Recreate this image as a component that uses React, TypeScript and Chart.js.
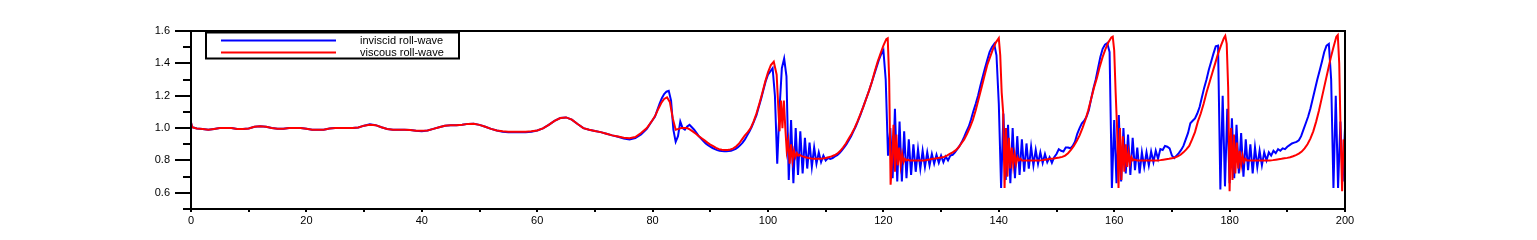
import { useEffect, useRef } from "react";
import { Chart, registerables } from "chart.js";

Chart.register(...registerables);

const X_MIN = 0;
const X_MAX = 200;
const Y_MIN = 0.5;
const Y_MAX = 1.6;
const xMajorTicks = [0, 20, 40, 60, 80, 100, 120, 140, 160, 180, 200];
const xMinorTicks = [10, 30, 50, 70, 90, 110, 130, 150, 170, 190];
const yMajorTicks = [0.6, 0.8, 1.0, 1.2, 1.4, 1.6];
const yMinorTicks = [0.5, 0.7, 0.9, 1.1, 1.3, 1.5];
const seriesNames = ["inviscid roll-wave", "viscous roll-wave"];

// ---- inviscid (blue) samples ----
// x = 0, 0.2
const blueHead = [1.035, 1.005];
// x = 1 .. 80, step 1
const blueCalm = [
  0.997, 0.995, 0.99, 0.995, 1.0, 1.0, 1.0, 0.995, 0.995, 0.998,
  1.008, 1.012, 1.008, 1.0, 0.996, 0.996, 1.0, 1.0, 1.0, 0.996,
  0.99, 0.99, 0.99, 0.998, 1.0, 1.0, 1.0, 1.0, 1.004, 1.015,
  1.024, 1.018, 1.005, 0.995, 0.99, 0.99, 0.99, 0.988, 0.983, 0.98,
  0.985, 0.995, 1.005, 1.015, 1.017, 1.017, 1.02, 1.026, 1.027, 1.02,
  1.008, 0.995, 0.985, 0.978, 0.975, 0.975, 0.975, 0.975, 0.977, 0.985,
  0.998, 1.02, 1.045, 1.062, 1.066, 1.052, 1.025, 1.0, 0.99, 0.982,
  0.975, 0.965, 0.955, 0.946, 0.936, 0.93, 0.938, 0.96, 0.995, 1.05,
];
// x = 80.4 .. 200, step 0.4
const blueWaves = [
  1.07, 1.11, 1.15, 1.185, 1.21,
  1.225, 1.23, 1.17, 0.99, 0.915,
  0.95, 1.04, 1.0, 0.99, 1.01,
  1.02, 1.005, 0.99, 0.97, 0.95,
  0.935, 0.92, 0.905, 0.895, 0.885,
  0.877, 0.87, 0.864, 0.86, 0.858,
  0.857, 0.857, 0.858, 0.86, 0.865,
  0.872, 0.882, 0.895, 0.91, 0.93,
  0.955, 0.98, 1.01, 1.045, 1.08,
  1.13, 1.18, 1.235, 1.29, 1.33,
  1.35, 1.37, 1.2, 0.78, 1.12,
  1.37, 1.43, 1.32, 0.68, 1.05,
  0.66, 1.0, 0.71, 0.98, 0.72,
  0.94, 0.75, 0.91, 0.76, 0.88,
  0.78, 0.85, 0.79, 0.83, 0.8,
  0.815, 0.81, 0.815, 0.825, 0.832,
  0.845, 0.862, 0.88, 0.9, 0.925,
  0.95, 0.98, 1.01, 1.045, 1.08,
  1.12, 1.16, 1.2, 1.24, 1.285,
  1.33, 1.375, 1.42, 1.455, 1.48,
  1.3, 0.83, 1.0, 0.69, 1.12,
  0.67, 1.04, 0.67, 0.98, 0.69,
  0.93, 0.71, 0.9, 0.73, 0.87,
  0.75, 0.86, 0.76, 0.85, 0.77,
  0.84, 0.78, 0.835, 0.785, 0.83,
  0.79, 0.825, 0.8, 0.83, 0.835,
  0.85, 0.87, 0.89, 0.915, 0.945,
  0.98, 1.01, 1.055, 1.105, 1.15,
  1.2, 1.26, 1.315, 1.37, 1.42,
  1.47, 1.5, 1.52, 1.45, 1.15,
  0.63, 1.09, 0.68, 1.02, 0.66,
  1.0, 0.69, 0.95, 0.71, 0.93,
  0.73, 0.905, 0.75, 0.885, 0.77,
  0.865, 0.78, 0.85, 0.785, 0.84,
  0.79, 0.82, 0.785, 0.82, 0.84,
  0.87, 0.86, 0.855, 0.88, 0.88,
  0.875, 0.89, 0.915, 0.965, 1.0,
  1.03, 1.045, 1.07, 1.11, 1.18,
  1.245, 1.3, 1.37, 1.44, 1.49,
  1.515, 1.525, 1.47, 0.63, 1.05,
  0.66, 1.08, 0.67, 1.0, 0.72,
  0.96, 0.71, 0.94, 0.74, 0.88,
  0.72, 0.85, 0.76, 0.85, 0.77,
  0.855, 0.79, 0.86, 0.81, 0.87,
  0.865, 0.89, 0.885, 0.875, 0.83,
  0.815, 0.83, 0.845, 0.865, 0.89,
  0.93, 0.97, 1.03, 1.045, 1.06,
  1.09, 1.13, 1.19, 1.25, 1.3,
  1.36, 1.41, 1.46, 1.505, 1.51,
  0.62, 1.2, 0.64, 1.12, 0.66,
  1.06, 0.69, 1.02, 0.72, 0.97,
  0.7, 0.93, 0.74, 0.9, 0.72,
  0.88, 0.76, 0.86, 0.77, 0.85,
  0.8, 0.85, 0.83, 0.86, 0.845,
  0.87, 0.86, 0.875, 0.87, 0.885,
  0.895, 0.905, 0.91, 0.915, 0.925,
  0.95, 0.99, 1.03, 1.07, 1.12,
  1.18, 1.24, 1.3, 1.355, 1.41,
  1.47, 1.51, 1.52, 1.3, 0.63,
  1.2, 0.63, 1.04, 0.67, 1.0,
];

// ---- viscous (red) samples ----
const redHead = [1.035, 1.005]; // x = 0, 0.2
// x = 1 .. 80, step 1
const redCalm = [
  0.997, 0.995, 0.99, 0.995, 1.0, 1.0, 1.0, 0.995, 0.995, 0.998,
  1.008, 1.012, 1.008, 1.0, 0.996, 0.996, 1.0, 1.0, 1.0, 0.996,
  0.99, 0.99, 0.99, 0.998, 1.0, 1.0, 1.0, 1.0, 1.004, 1.015,
  1.02, 1.018, 1.005, 0.995, 0.99, 0.99, 0.99, 0.988, 0.983, 0.983,
  0.985, 0.995, 1.005, 1.015, 1.017, 1.017, 1.02, 1.026, 1.027, 1.02,
  1.008, 0.995, 0.985, 0.98, 0.978, 0.978, 0.978, 0.978, 0.98, 0.985,
  0.998, 1.02, 1.045, 1.062, 1.066, 1.052, 1.025, 1.0, 0.99, 0.982,
  0.975, 0.965, 0.955, 0.948, 0.94, 0.937, 0.945, 0.97, 1.0, 1.05,
];
// x = 80.5 .. 101.5, step 0.5
const redWave1 = [
  1.08, 1.12, 1.155, 1.18, 1.19, 1.16, 1.06, 0.99, 0.995, 1.0,
  1.0, 1.0, 0.99, 0.978, 0.965, 0.95, 0.937, 0.924, 0.91, 0.898,
  0.888, 0.878, 0.87, 0.866, 0.864, 0.864, 0.868, 0.875, 0.888, 0.905,
  0.93, 0.955, 0.975, 1.0, 1.04, 1.09, 1.15, 1.215, 1.285, 1.345,
  1.39, 1.41, 1.33,
];
// x = 101.75 .. 106, step 0.25
const redShock2 = [
  1.15, 0.98, 1.17, 1.0, 1.17, 1.0, 0.86, 0.92, 0.78, 0.9,
  0.8, 0.86, 0.82, 0.845, 0.83, 0.835, 0.828, 0.825,
];
// x = 106.5 .. 120.5, step 0.5
const redRise3 = [
  0.82, 0.815, 0.812, 0.81, 0.81, 0.81, 0.812, 0.815, 0.82, 0.825,
  0.832, 0.842, 0.858, 0.88, 0.905, 0.935, 0.965, 1.0, 1.04, 1.085,
  1.13, 1.18, 1.23, 1.285, 1.35, 1.41, 1.46, 1.51, 1.55,
];
// x = 120.75 .. 124.5, step 0.25
const redShock3 = [
  1.555, 1.3, 0.65, 0.8, 1.02, 0.73, 0.96, 0.77, 0.88, 0.77,
  0.84, 0.79, 0.81, 0.8, 0.805, 0.8,
];
// x = 125 .. 140, step 0.5
const redRise4 = [
  0.8, 0.8, 0.8, 0.8, 0.8, 0.803, 0.806, 0.81, 0.812, 0.815,
  0.818, 0.822, 0.83, 0.84, 0.85, 0.862, 0.88, 0.905, 0.93, 0.965,
  1.005, 1.05, 1.11, 1.18, 1.25, 1.32, 1.39, 1.44, 1.49, 1.53,
  1.556,
];
// x = 140.25 .. 144, step 0.25
const redShock4 = [
  1.45, 1.22, 1.1, 0.63, 1.0, 0.7, 0.94, 0.75, 0.88, 0.77,
  0.84, 0.78, 0.82, 0.8, 0.81, 0.8,
];
// x = 144.5 .. 159.5, step 0.5
const redRise5 = [
  0.8, 0.8, 0.8, 0.8, 0.8, 0.8, 0.802, 0.805, 0.808, 0.81,
  0.812, 0.815, 0.818, 0.822, 0.83, 0.845, 0.865, 0.89, 0.92, 0.955,
  1.0, 1.05, 1.11, 1.18, 1.25, 1.31, 1.38, 1.44, 1.49, 1.53,
  1.56,
];
// x = 159.75 .. 163.5, step 0.25
const redShock5 = [
  1.565, 1.48, 1.22, 1.0, 0.63, 1.0, 0.68, 0.95, 0.73, 0.9,
  0.76, 0.85, 0.78, 0.82, 0.8, 0.805,
];
// x = 164 .. 179, step 0.5
const redRise6 = [
  0.8, 0.8, 0.8, 0.8, 0.8, 0.8, 0.8, 0.8, 0.802, 0.805,
  0.808, 0.81, 0.813, 0.818, 0.825, 0.835, 0.85, 0.868, 0.89, 0.93,
  0.975, 1.04, 1.09, 1.15, 1.22, 1.28, 1.34, 1.4, 1.46, 1.51,
  1.555,
];
// x = 179.25 .. 183, step 0.25
const redShock6 = [
  1.57, 1.52, 1.25, 0.61, 1.0, 0.68, 0.96, 0.72, 0.91, 0.75,
  0.86, 0.77, 0.83, 0.79, 0.81, 0.8,
];
// x = 183.5 .. 198.5, step 0.5
const redRise7 = [
  0.8, 0.8, 0.8, 0.8, 0.8, 0.8, 0.8, 0.8, 0.802, 0.805,
  0.808, 0.81, 0.813, 0.816, 0.82, 0.826, 0.833, 0.842, 0.855, 0.875,
  0.9, 0.935, 0.98, 1.04, 1.11, 1.19, 1.27, 1.35, 1.43, 1.5,
  1.565,
];
// x = 198.75 .. 200, step 0.25
const redShock7 = [1.575, 1.4, 0.95, 0.61, 0.93, 0.8];

// sampling grids: [first x, step, values]
const blueSegments: [number, number, number[]][] = [
  [0, 0.2, blueHead],
  [1, 1, blueCalm],
  [80.4, 0.4, blueWaves],
];
const redSegments: [number, number, number[]][] = [
  [0, 0.2, redHead],
  [1, 1, redCalm],
  [80.5, 0.5, redWave1],
  [101.75, 0.25, redShock2],
  [106.5, 0.5, redRise3],
  [120.75, 0.25, redShock3],
  [125, 0.5, redRise4],
  [140.25, 0.25, redShock4],
  [144.5, 0.5, redRise5],
  [159.75, 0.25, redShock5],
  [164, 0.5, redRise6],
  [179.25, 0.25, redShock6],
  [183.5, 0.5, redRise7],
  [198.75, 0.25, redShock7],
];

function toPoints(segs: [number, number, number[]][]) {
  const pts: { x: number; y: number }[] = [];
  for (const [x0, dx, ys] of segs) {
    ys.forEach((y, i) => pts.push({ x: Math.round((x0 + i * dx) * 1000) / 1000, y }));
  }
  return pts;
}

const FONT = "'Liberation Sans', Arial, Helvetica, sans-serif";

const framePlugin = {
  id: "frameAndLegend",
  afterDatasetsDraw(chart: any) {
    const { ctx, chartArea, scales } = chart;
    const { left, right, top, bottom } = chartArea;
    const xs = scales.x;
    const ys = scales.y;
    ctx.save();
    ctx.strokeStyle = "#000";
    ctx.lineWidth = 2;
    ctx.beginPath();
    ctx.moveTo(left, top);
    ctx.lineTo(right, top);
    ctx.lineTo(right, bottom);
    ctx.lineTo(left, bottom);
    ctx.closePath();
    ctx.stroke();
    ctx.beginPath();
    for (const v of yMajorTicks) {
      const p = Math.round(ys.getPixelForValue(v));
      ctx.moveTo(left - 16, p);
      ctx.lineTo(left, p);
    }
    for (const v of yMinorTicks) {
      const p = Math.round(ys.getPixelForValue(v));
      ctx.moveTo(left - 8, p);
      ctx.lineTo(left, p);
    }
    for (const v of xMajorTicks.concat(xMinorTicks)) {
      const p = Math.round(xs.getPixelForValue(v));
      ctx.moveTo(p, bottom);
      ctx.lineTo(p, bottom + 3);
    }
    ctx.stroke();

    // legend box
    const lx = left + 15;
    const ly = top + 1.5;
    ctx.lineWidth = 2;
    ctx.strokeRect(lx, ly, 253, 26);
    const colors = ["#0000ff", "#ff0000"];
    ctx.font = `11px ${FONT}`;
    ctx.textBaseline = "middle";
    ctx.textAlign = "left";
    seriesNames.forEach((name, i) => {
      const yy = ly + 8 + i * 12;
      ctx.strokeStyle = colors[i];
      ctx.lineWidth = 2;
      ctx.beginPath();
      ctx.moveTo(lx + 15, yy);
      ctx.lineTo(lx + 130, yy);
      ctx.stroke();
      ctx.fillStyle = "#000";
      ctx.fillText(name, lx + 154, yy + 0.5);
    });
    ctx.restore();
  },
};

export default function App() {
  const ref = useRef<HTMLCanvasElement | null>(null);
  useEffect(() => {
    if (!ref.current) return;
    const chart = new Chart(ref.current, {
      type: "line",
      data: {
        datasets: [
          {
            label: seriesNames[0],
            data: toPoints(blueSegments),
            borderColor: "#0000ff",
            borderWidth: 2,
            pointRadius: 0,
            tension: 0,
            order: 1,
          },
          {
            label: seriesNames[1],
            data: toPoints(redSegments),
            borderColor: "#ff0000",
            borderWidth: 2,
            pointRadius: 0,
            tension: 0,
            order: 0,
          },
        ],
      },
      options: {
        responsive: false,
        animation: false,
        devicePixelRatio: 1,
        events: [],
        layout: { padding: { left: 0, right: 192, top: 31, bottom: 0 } },
        plugins: { legend: { display: false }, tooltip: { enabled: false } },
        scales: {
          x: {
            type: "linear",
            min: X_MIN,
            max: X_MAX,
            border: { display: false },
            grid: { display: false, drawTicks: false },
            afterBuildTicks: (s: any) => {
              s.ticks = xMajorTicks.map((value) => ({ value }));
            },
            afterFit: (s: any) => {
              s.height = 31;
            },
            ticks: {
              color: "#000",
              font: { family: FONT, size: 11 },
              padding: 5,
              maxRotation: 0,
              autoSkip: false,
              callback: (v: any) => String(v),
            },
          },
          y: {
            type: "linear",
            min: Y_MIN,
            max: Y_MAX,
            border: { display: false },
            grid: { display: false, drawTicks: false },
            afterBuildTicks: (s: any) => {
              s.ticks = yMajorTicks.map((value) => ({ value }));
            },
            afterFit: (s: any) => {
              s.width = 191;
            },
            ticks: {
              color: "#000",
              font: { family: FONT, size: 11 },
              padding: 21,
              autoSkip: false,
              callback: (v: any) => Number(v).toFixed(1),
            },
          },
        },
      },
      plugins: [framePlugin],
    });
    return () => chart.destroy();
  }, []);
  return (
    <div style={{ position: "absolute", left: 0, top: 0, width: 1537, height: 240, background: "#fff" }}>
      <canvas ref={ref} width={1537} height={240} style={{ display: "block" }} />
    </div>
  );
}
